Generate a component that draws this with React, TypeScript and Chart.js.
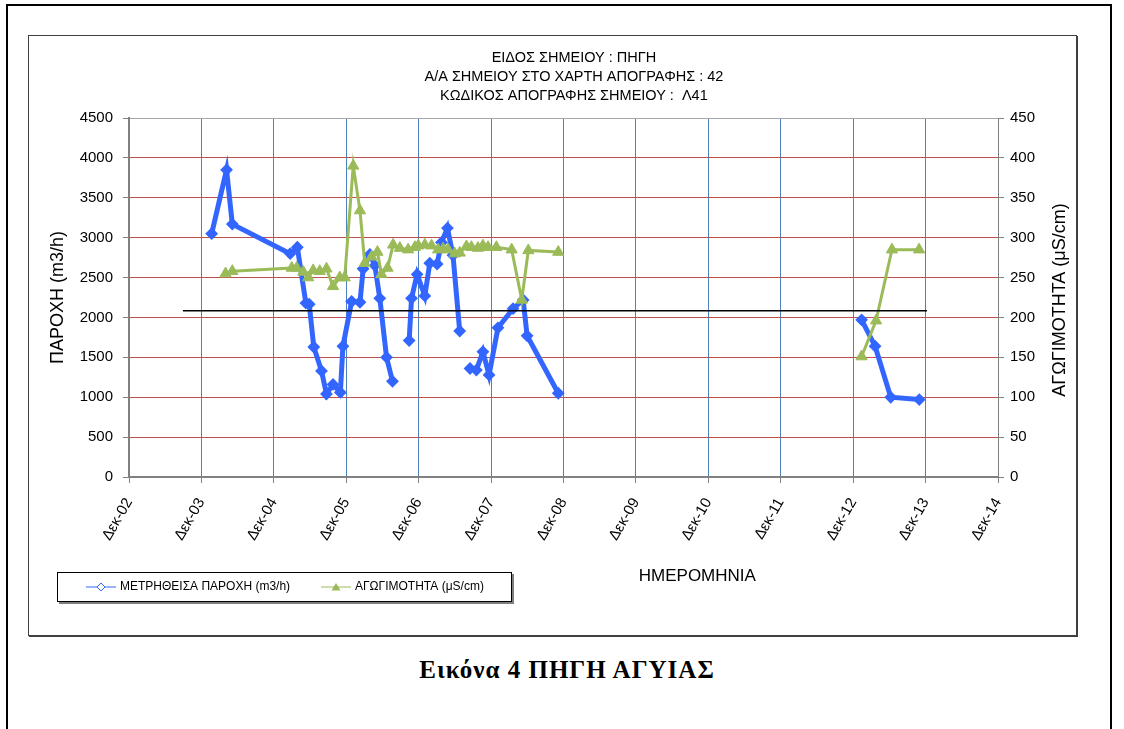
import React, { useEffect, useRef } from 'react';
import { Chart, registerables } from 'chart.js';

Chart.register(...registerables);

// ---------- DATA ----------
const titleLines = [
  'ΕΙΔΟΣ ΣΗΜΕΙΟΥ : ΠΗΓΗ',
  'Α/Α ΣΗΜΕΙΟΥ ΣΤΟ ΧΑΡΤΗ ΑΠΟΓΡΑΦΗΣ : 42',
  'ΚΩΔΙΚΟΣ ΑΠΟΓΡΑΦΗΣ ΣΗΜΕΙΟΥ :  Λ41',
];
const xAxisTitle = 'ΗΜΕΡΟΜΗΝΙΑ';
const leftAxisTitle = 'ΠΑΡΟΧΗ (m3/h)';
const rightAxisTitle = 'ΑΓΩΓΙΜΟΤΗΤΑ (μS/cm)';
const flowLabel = 'ΜΕΤΡΗΘΕΙΣΑ ΠΑΡΟΧΗ (m3/h)';
const condLabel = 'ΑΓΩΓΙΜΟΤΗΤΑ (μS/cm)';
const captionText = 'Εικόνα 4 ΠΗΓΗ ΑΓΥΙΑΣ';

const xTickDates = [
  '2002-12-01', '2003-12-01', '2004-12-01', '2005-12-01', '2006-12-01', '2007-12-01', '2008-12-01',
  '2009-12-01', '2010-12-01', '2011-12-01', '2012-12-01', '2013-12-01', '2014-12-01',
];
const xTickLabels = [
  'Δεκ-02', 'Δεκ-03', 'Δεκ-04', 'Δεκ-05', 'Δεκ-06', 'Δεκ-07', 'Δεκ-08',
  'Δεκ-09', 'Δεκ-10', 'Δεκ-11', 'Δεκ-12', 'Δεκ-13', 'Δεκ-14',
];

const flowDates = [
  '2004-01-22', '2004-04-06', '2004-05-05', '2005-02-21', '2005-03-29', '2005-05-11', '2005-05-28',
  '2005-06-20', '2005-07-29', '2005-08-23', '2005-09-25', '2005-11-01', '2005-11-14', '2005-12-28',
  '2006-02-08', '2006-02-24', '2006-03-30', '2006-04-24', '2006-05-19', '2006-06-22', '2006-07-22',
  '2006-08-28', '2006-10-14', '2006-10-26', '2006-11-23', '2007-01-01', '2007-01-26', '2007-03-04',
  '2007-03-26', '2007-04-25', '2007-05-23', '2007-06-26', '2007-07-30', '2007-08-17', '2007-09-18',
  '2007-10-21', '2007-11-21', '2008-01-05', '2008-03-21', '2008-05-11', '2008-05-31', '2008-11-04',
  '2011-01-01', '2013-01-12', '2013-03-21', '2013-06-08', '2013-10-30',
];
const flowValues: (number | null)[] = [
  3050, 3850, 3170, 2800, 2880, 2180, 2165,
  1630, 1330, 1040, 1160, 1060, 1640, 2200,
  2190, 2610, 2790, 2650, 2240, 1500, 1200,
  null, 1710, 2240, 2540, 2270, 2680, 2670,
  2940, 3120, 2780, 1830, null, 1360, 1340,
  1570, 1280, 1870, 2110, 2220, 1770, 1050,
  null, 1970, 1640, 1000, 970,
];

const condDates = [
  '2004-04-01', '2004-05-05', '2005-03-01', '2005-03-26', '2005-04-28', '2005-05-23', '2005-06-17',
  '2005-07-20', '2005-08-23', '2005-09-25', '2005-10-29', '2005-11-23', '2006-01-05', '2006-02-08',
  '2006-03-04', '2006-04-07', '2006-05-07', '2006-05-27', '2006-06-27', '2006-07-25', '2006-08-28',
  '2006-10-09', '2006-11-12', '2006-11-29', '2007-01-01', '2007-02-04', '2007-03-09', '2007-04-03',
  '2007-04-28', '2007-06-01', '2007-06-26', '2007-07-30', '2007-08-24', '2007-09-26', '2007-10-21',
  '2007-11-16', '2007-12-28', '2008-03-14', '2008-05-04', '2008-06-06', '2008-11-04', '2011-01-01',
  '2013-01-12', '2013-03-26', '2013-06-14', '2013-10-29',
];
const condValues: (number | null)[] = [
  255, 258, 262, 262, 257, 250, 259,
  258, 261, 239, 250, 250, 390, 334,
  268, 276, 282, 254, 262, 291, 287,
  285, 288, 290, 291, 290, 285, 286,
  285, 280, 281, 289, 288, 287, 290,
  288, 288, 285, 222, 284, 282, null,
  151, 196, 285, 285,
];

const refLineDates = ['2003-08-30', '2013-12-08'];
const refLineValues = [2085, 2085];

const flowMin = 0;
const flowMax = 4500;
const flowStep = 500;
const condMin = 0;
const condMax = 450;
const condStep = 50;

// ---------- STYLE ----------
const FONT = '"Liberation Sans", Arial, sans-serif';
const BLUE = '#3366FF';
const GREEN = '#9BBB59';
const GRID_RED = '#C0504D';
const GRID_BLUE = '#4F81BD';
const AXIS_GRAY = '#808080';

const dayNum = (s: string) => Date.parse(s + 'T00:00:00Z') / 86400000;

const decorPlugin = {
  id: 'decor',
  afterDraw(chart: any) {
    const { ctx, chartArea: a } = chart;
    const w = a.right - a.left;
    const midY = (a.top + a.bottom) / 2;
    ctx.save();
    ctx.fillStyle = '#000';
    ctx.textAlign = 'center';
    ctx.textBaseline = 'middle';

    // header
    ctx.font = `14.5px ${FONT}`;
    titleLines.forEach((t, i) => ctx.fillText(t, a.left + w * 0.512, a.top - 60.5 + i * 19));

    // axis titles
    ctx.font = `17px ${FONT}`;
    ctx.fillText(xAxisTitle, a.left + w * 0.654, a.bottom + 99);
    ctx.font = `18px ${FONT}`;
    ctx.save();
    ctx.translate(a.left - 71, midY);
    ctx.rotate(-Math.PI / 2);
    ctx.fillText(leftAxisTitle, 0, 0);
    ctx.restore();
    ctx.save();
    ctx.translate(a.right + 62, midY + 2.5);
    ctx.rotate(-Math.PI / 2);
    ctx.fillText(rightAxisTitle, 0, 0);
    ctx.restore();

    // legend
    const bx = a.left - 72;
    const by = a.bottom + 95;
    const bw = 454;
    const bh = 29;
    ctx.fillStyle = '#fff';
    ctx.fillRect(bx, by, bw, bh);
    ctx.strokeStyle = '#000';
    ctx.lineWidth = 1;
    ctx.strokeRect(bx + 0.5, by + 0.5, bw, bh);
    ctx.strokeStyle = '#7f7f7f';
    ctx.lineWidth = 2;
    ctx.beginPath();
    ctx.moveTo(bx + 2, by + bh + 2);
    ctx.lineTo(bx + bw + 2, by + bh + 2);
    ctx.lineTo(bx + bw + 2, by + 2);
    ctx.stroke();

    const cy = by + bh / 2 + 0.5;
    // flow entry
    ctx.strokeStyle = BLUE;
    ctx.lineWidth = 1;
    ctx.beginPath();
    ctx.moveTo(bx + 29, cy);
    ctx.lineTo(bx + 59, cy);
    ctx.stroke();
    ctx.fillStyle = '#fff';
    ctx.beginPath();
    ctx.moveTo(bx + 44, cy - 4);
    ctx.lineTo(bx + 48, cy);
    ctx.lineTo(bx + 44, cy + 4);
    ctx.lineTo(bx + 40, cy);
    ctx.closePath();
    ctx.fill();
    ctx.stroke();
    // cond entry
    ctx.strokeStyle = GREEN;
    ctx.beginPath();
    ctx.moveTo(bx + 264, cy);
    ctx.lineTo(bx + 294, cy);
    ctx.stroke();
    ctx.fillStyle = GREEN;
    ctx.beginPath();
    ctx.moveTo(bx + 279, cy - 4);
    ctx.lineTo(bx + 283.5, cy + 3.5);
    ctx.lineTo(bx + 274.5, cy + 3.5);
    ctx.closePath();
    ctx.fill();

    ctx.fillStyle = '#000';
    ctx.textAlign = 'left';
    ctx.font = `12px ${FONT}`;
    ctx.fillText(flowLabel, bx + 63, cy);
    ctx.fillText(condLabel, bx + 298, cy);
    ctx.restore();
  },
};

function ChartBox() {
  const ref = useRef<HTMLCanvasElement | null>(null);
  useEffect(() => {
    if (!ref.current) return;
    Chart.defaults.font.family = FONT;
    const flowData = flowDates.map((d, i) => ({ x: dayNum(d), y: flowValues[i] }));
    const condData = condDates.map((d, i) => ({ x: dayNum(d), y: condValues[i] }));
    const refData = refLineDates.map((d, i) => ({ x: dayNum(d), y: refLineValues[i] }));
    const xMin = dayNum(xTickDates[0]);
    const xMax = dayNum(xTickDates[xTickDates.length - 1]);

    const chart = new Chart(ref.current, {
      type: 'line',
      data: {
        datasets: [
          {
            label: 'ref',
            data: refData,
            yAxisID: 'y',
            borderColor: '#000',
            borderWidth: 1.5,
            pointRadius: 0,
            order: 0,
          },
          {
            label: condLabel,
            data: condData,
            yAxisID: 'y1',
            borderColor: GREEN,
            backgroundColor: GREEN,
            borderWidth: 3,
            pointStyle: 'triangle',
            pointRadius: 6.5,
            pointBorderWidth: 1,
            pointBackgroundColor: GREEN,
            pointBorderColor: GREEN,
            spanGaps: false,
            order: 1,
          },
          {
            label: flowLabel,
            data: flowData,
            yAxisID: 'y',
            borderColor: BLUE,
            backgroundColor: BLUE,
            borderWidth: 5,
            pointStyle: 'rectRot',
            pointRadius: 5,
            pointBorderWidth: 2,
            pointBackgroundColor: BLUE,
            pointBorderColor: BLUE,
            spanGaps: false,
            order: 2,
          },
        ],
      } as any,
      options: {
        animation: false,
        responsive: false,
        events: [],
        layout: { padding: { top: 82, left: 0, right: 0, bottom: 0 } },
        plugins: { legend: { display: false }, tooltip: { enabled: false }, title: { display: false } },
        elements: { line: { tension: 0 } },
        scales: {
          x: {
            type: 'linear',
            min: xMin,
            max: xMax,
            afterBuildTicks: (scale: any) => {
              scale.ticks = xTickDates.map((d) => ({ value: dayNum(d) }));
            },
            afterFit: (scale: any) => {
              scale.height = 158;
            },
            grid: {
              color: (c: any) => (c.index === 0 || c.index === xTickDates.length - 1 ? 'rgba(0,0,0,0)' : GRID_BLUE),
              tickColor: AXIS_GRAY,
              tickLength: 6,
              lineWidth: 1,
            },
            border: { display: true, color: AXIS_GRAY, width: 2 },
            ticks: {
              autoSkip: false,
              maxRotation: 60,
              minRotation: 60,
              padding: 12,
              color: '#000',
              font: { size: 15, family: FONT },
              callback: (_v: any, i: number) => xTickLabels[i],
            },
          },
          y: {
            type: 'linear',
            position: 'left',
            min: flowMin,
            max: flowMax,
            afterFit: (scale: any) => {
              scale.width = 100;
            },
            grid: {
              color: (c: any) =>
                c.tick.value === flowMax ? '#A6A6A6' : c.tick.value === flowMin ? 'rgba(0,0,0,0)' : GRID_RED,
              tickColor: AXIS_GRAY,
              tickLength: 6,
            },
            border: { display: true, color: AXIS_GRAY, width: 2 },
            ticks: {
              stepSize: flowStep,
              padding: 10,
              color: '#000',
              font: { size: 15, family: FONT },
              callback: (v: any) => String(v),
            },
          },
          y1: {
            type: 'linear',
            position: 'right',
            min: condMin,
            max: condMax,
            afterFit: (scale: any) => {
              scale.width = 78;
            },
            grid: { drawOnChartArea: false, tickColor: AXIS_GRAY, tickLength: 6 },
            border: { display: true, color: AXIS_GRAY, width: 1 },
            ticks: {
              stepSize: condStep,
              padding: 6,
              color: '#000',
              font: { size: 15, family: FONT },
              callback: (v: any) => String(v),
            },
          },
        },
      } as any,
      plugins: [decorPlugin],
    });
    return () => chart.destroy();
  }, []);

  return <canvas ref={ref} width={1047} height={599} style={{ display: 'block', width: 1047, height: 599 }} />;
}

export default function App() {
  return (
    <div style={{ position: 'absolute', left: 0, top: 0, width: 1124, height: 729, overflow: 'hidden', background: '#fff' }}>
      <div
        style={{
          position: 'absolute',
          left: 6,
          top: 4,
          width: 1102,
          height: 760,
          borderTop: '2px solid #000',
          borderLeft: '2px solid #000',
          borderRight: '2px solid #000',
        }}
      />
      <div
        style={{
          position: 'absolute',
          left: 28,
          top: 35,
          width: 1047,
          height: 599,
          border: '1px solid #404040',
          boxShadow: '1px 1px 0 #404040',
          background: '#fff',
        }}
      >
        <ChartBox />
      </div>
      <div
        style={{
          position: 'absolute',
          left: 0,
          top: 655,
          width: 1134,
          textAlign: 'center',
          fontFamily: '"Liberation Serif", "Times New Roman", serif',
          fontWeight: 'bold',
          fontSize: 25,
          letterSpacing: 1,
          lineHeight: '30px',
          color: '#000',
        }}
      >
        {captionText}
      </div>
    </div>
  );
}
